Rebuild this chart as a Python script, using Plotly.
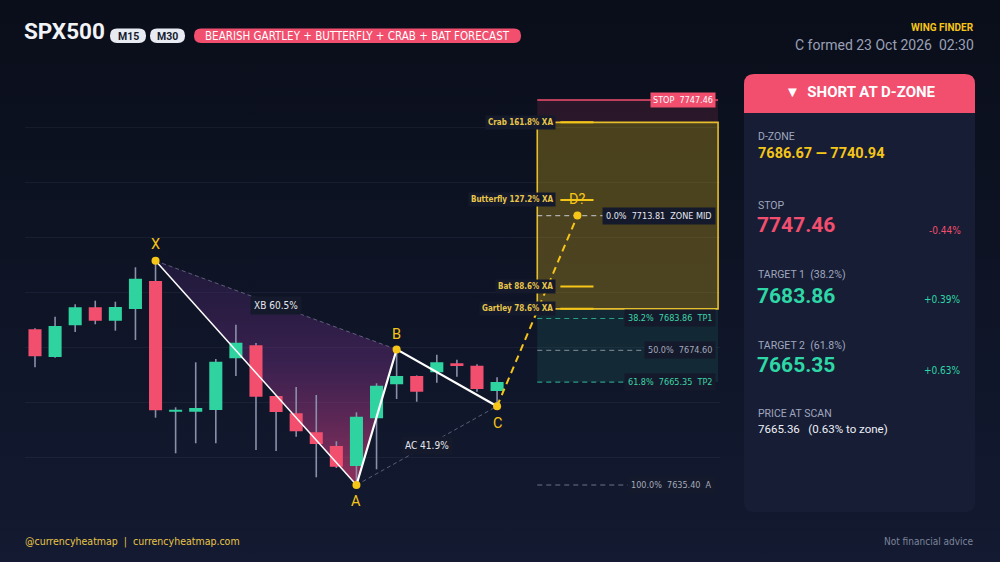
import base64
import plotly.graph_objects as go

# ---------------- data ----------------
candle_idx = list(range(24))
opens  = [7680.71, 7672.65, 7681.88, 7687.12, 7683.22, 7686.62, 7694.77, 7656.73, 7656.73, 7657.23, 7672.27, 7676.06,
          7661.30, 7656.27, 7650.74, 7646.75, 7640.93, 7654.81, 7664.71, 7667.12, 7668.20, 7670.82, 7670.12, 7662.76]
highs  = [7681.00, 7684.38, 7687.99, 7689.04, 7688.75, 7698.76, 7700.63, 7658.01, 7671.11, 7672.07, 7682.05, 7676.70,
          7661.50, 7663.92, 7661.59, 7648.12, 7656.56, 7665.00, 7674.86, 7667.30, 7673.32, 7671.87, 7670.53, 7666.75]
lows   = [7669.66, 7672.45, 7679.93, 7682.17, 7680.31, 7677.60, 7654.99, 7644.63, 7647.54, 7647.54, 7667.12, 7645.59,
          7645.30, 7649.46, 7637.64, 7640.35, 7635.40, 7639.97, 7660.43, 7659.64, 7665.17, 7666.92, 7662.55, 7658.33]
closes = [7672.86, 7681.68, 7687.12, 7683.22, 7687.20, 7695.44, 7657.14, 7657.23, 7657.81, 7671.29, 7676.82, 7661.10,
          7656.65, 7651.03, 7647.33, 7640.73, 7655.28, 7664.30, 7667.12, 7662.55, 7671.11, 7670.03, 7663.34, 7665.36]

pattern_labels = ["X", "A", "B", "C", "D?"]
pattern_idx = [6, 16, 18, 23, 27]
pattern_price = [7700.63, 7635.40, 7674.86, 7658.33, 7713.81]

level_names = ["Crab 161.8% XA", "Butterfly 127.2% XA", "Bat 88.6% XA", "Gartley 78.6% XA"]
level_prices = [7740.94, 7718.37, 7693.19, 7686.67]

fib_pcts = ["0.0%", "38.2%", "50.0%", "61.8%", "100.0%"]
fib_prices = [7713.81, 7683.86, 7674.60, 7665.35, 7635.40]
fib_tags = ["ZONE MID", "TP1", "", "TP2", "A"]

stop_price = 7747.46
price_at_scan = 7665.36
ratio_labels = ["XB 60.5%", "AC 41.9%"]
grid_prices = [7643.46, 7659.45, 7675.44, 7691.43, 7707.42, 7723.41, 7739.40]

symbol = "SPX500"
timeframes = ["M15", "M30"]
pattern_title = "BEARISH GARTLEY + BUTTERFLY + CRAB + BAT FORECAST"
formed_text = "C formed 23 Oct 2026\u00a0\u00a002:30"

# ---------------- style ----------------
W, H = 1000, 562
COND = "DejaVu Sans Condensed, Roboto, sans-serif"
ROB = "Roboto, sans-serif"
GREEN = "#2ed3a0"
RED = "#f24e6e"
YELLOW = "#f5c518"
LBLBG = "#141a2b"
ZONE_X0, ZONE_X1 = 25, 34
BODY_HALF = 0.325
NB = "\u00a0"


def P(px, py):
    return px / W, 1 - py / H


def rrect(x0, y0, x1, y1, r, top_only=False):
    def pt(a, b):
        xa, yb = P(a, b)
        return f"{xa:.5f},{yb:.5f}"
    if top_only:
        return (f"M{pt(x0, y1)} L{pt(x0, y0 + r)} Q{pt(x0, y0)} {pt(x0 + r, y0)} "
                f"L{pt(x1 - r, y0)} Q{pt(x1, y0)} {pt(x1, y0 + r)} L{pt(x1, y1)} Z")
    return (f"M{pt(x0 + r, y0)} L{pt(x1 - r, y0)} Q{pt(x1, y0)} {pt(x1, y0 + r)} "
            f"L{pt(x1, y1 - r)} Q{pt(x1, y1)} {pt(x1 - r, y1)} L{pt(x0 + r, y1)} "
            f"Q{pt(x0, y1)} {pt(x0, y1 - r)} L{pt(x0, y0 + r)} Q{pt(x0, y0)} {pt(x0 + r, y0)} Z")


fig = go.Figure()

# XAB triangle with gradient
X, A, B, C, D = list(zip(pattern_idx, pattern_price))
fig.add_trace(go.Scatter(
    x=[X[0], A[0], B[0], X[0]], y=[X[1], A[1], B[1], X[1]],
    mode="lines", line=dict(width=0), fill="toself",
    fillgradient=dict(type="vertical", start=A[1], stop=X[1],
                      colorscale=[[0, "rgba(230,65,120,0.6)"], [0.55, "rgba(125,50,140,0.38)"],
                                  [1, "rgba(75,40,115,0.28)"]]),
    hoverinfo="skip", showlegend=False))

# dashed XB / AC
for p0, p1 in [(X, B), (A, C)]:
    fig.add_trace(go.Scatter(x=[p0[0], p1[0]], y=[p0[1], p1[1]], mode="lines",
                             line=dict(color="rgba(150,150,180,0.55)", width=1, dash="4px,3px"),
                             hoverinfo="skip", showlegend=False))

# wicks
wx, wy = [], []
for i, hi, lo in zip(candle_idx, highs, lows):
    wx += [i, i, None]
    wy += [lo, hi, None]
fig.add_trace(go.Scatter(x=wx, y=wy, mode="lines", line=dict(color="#8a90aa", width=1.6),
                         hoverinfo="skip", showlegend=False))

# bodies (filled polygons so they sit above the gradient fill)
for up, col in [(True, GREEN), (False, RED)]:
    bx, by = [], []
    for i, o, c in zip(candle_idx, opens, closes):
        if (c >= o) != up:
            continue
        lo, hi = min(o, c), max(o, c)
        if hi - lo < 0.6:
            hi = lo + 0.6
        bx += [i - BODY_HALF, i + BODY_HALF, i + BODY_HALF, i - BODY_HALF, i - BODY_HALF, None]
        by += [lo, lo, hi, hi, lo, None]
    fig.add_trace(go.Scatter(x=bx, y=by, mode="lines", line=dict(width=0, color=col), fill="toself",
                             fillcolor=col, hoverinfo="skip", showlegend=False))

# pattern legs
fig.add_trace(go.Scatter(x=[X[0], A[0]], y=[X[1], A[1]], mode="lines", line=dict(color="white", width=1.5),
                         hoverinfo="skip", showlegend=False))
fig.add_trace(go.Scatter(x=[A[0], B[0], C[0]], y=[A[1], B[1], C[1]], mode="lines",
                         line=dict(color="white", width=2.2), hoverinfo="skip", showlegend=False))
fig.add_trace(go.Scatter(x=[C[0], D[0]], y=[C[1], D[1]], mode="lines",
                         line=dict(color=YELLOW, width=2, dash="7px,5px"), hoverinfo="skip", showlegend=False))

# level short lines
for lp in level_prices:
    fig.add_trace(go.Scatter(x=[D[0] - 0.85, D[0] + 0.8], y=[lp, lp], mode="lines",
                             line=dict(color=YELLOW, width=2), hoverinfo="skip", showlegend=False))

# pattern points
fig.add_trace(go.Scatter(x=pattern_idx, y=pattern_price, mode="markers",
                         marker=dict(color=YELLOW, size=8), cliponaxis=False,
                         hoverinfo="skip", showlegend=False))

shapes = []
shapes.append(dict(type="rect", xref="x", yref="y", x0=ZONE_X0, x1=ZONE_X1, y0=level_prices[0], y1=stop_price,
                   fillcolor="rgba(242,78,110,0.13)", line=dict(width=0), layer="between"))
shapes.append(dict(type="rect", xref="x", yref="y", x0=ZONE_X0, x1=ZONE_X1, y0=fib_prices[3], y1=level_prices[3],
                   fillcolor="rgba(47,214,166,0.10)", line=dict(width=0), layer="between"))
shapes.append(dict(type="rect", xref="x", yref="y", x0=ZONE_X0, x1=ZONE_X1, y0=level_prices[3], y1=level_prices[0],
                   fillcolor="rgba(245,197,24,0.27)", line=dict(color="#e6bd2c", width=1.6), layer="between"))
shapes.append(dict(type="line", xref="x", yref="y", x0=ZONE_X0, x1=ZONE_X1, y0=stop_price, y1=stop_price,
                   line=dict(color=RED, width=1.6), layer="between"))
fib_line_cols = ["rgba(210,212,222,0.75)", "rgba(47,200,160,0.75)", "rgba(150,155,175,0.7)",
                 "rgba(47,200,160,0.75)", "rgba(150,155,175,0.7)"]
fib_txt_cols = ["#e6e8f0", "#3dd6a8", "#a4a9bb", "#3dd6a8", "#a4a9bb"]
for fp, lc in zip(fib_prices, fib_line_cols):
    shapes.append(dict(type="line", xref="x", yref="y", x0=ZONE_X0, x1=33.5, y0=fp, y1=fp,
                       line=dict(color=lc, width=1.2, dash="5px,4px"), layer="between"))

# panel card
shapes.append(dict(type="path", xref="paper", yref="paper", path=rrect(744, 74, 975, 512, 10),
                   fillcolor="#161d35", line=dict(width=0)))
shapes.append(dict(type="path", xref="paper", yref="paper", path=rrect(744, 74, 975, 113, 10, top_only=True),
                   fillcolor="#f24e6e", line=dict(width=0)))
pill_boxes = [(110, 146), (150, 185)]
for (a, b) in pill_boxes:
    shapes.append(dict(type="path", xref="paper", yref="paper", path=rrect(a, 28.5, b, 43, 7),
                       fillcolor="#e9ebf3", line=dict(width=0)))
shapes.append(dict(type="path", xref="paper", yref="paper", path=rrect(194, 28.5, 521, 43, 7),
                   fillcolor="#f24e6e", line=dict(width=0)))

ann = []


def A_(x, y, text, size, color, family=COND, xanchor="left", yanchor="middle", xref="paper", yref="paper",
       bg=None, pad=0, yshift=0, bold=False):
    d = dict(x=x, y=y, xref=xref, yref=yref, text=(f"<b>{text}</b>" if bold else text), showarrow=False,
             xanchor=xanchor, yanchor=yanchor, font=dict(family=family, size=size, color=color),
             borderpad=pad, yshift=yshift)
    if bg:
        d["bgcolor"] = bg
    ann.append(d)


def PA(px, py, text, size, color, **kw):
    xp, yp = P(px, py)
    A_(xp, yp, text, size, color, **kw)


# header
PA(23, 31, symbol, 22.5, "#f2f3f7", family=ROB, bold=True)
for (a, b), tf in zip(pill_boxes, timeframes):
    PA((a + b) / 2, 36, tf, 10.5, "#161b2e", family=ROB, xanchor="center", bold=True)
PA((194 + 521) / 2, 36, pattern_title, 11.5, "#ffffff", xanchor="center")
PA(975, 28, "WING FINDER", 10, YELLOW, family=ROB, xanchor="right", bold=True)
PA(975, 45, formed_text, 14, "#9aa0b5", family=ROB, xanchor="right")

# footer
PA(24, 541, f"@currencyheatmap{NB}{NB}|{NB}{NB}currencyheatmap.com", 10.5, "#e8c547")
PA(975, 541, "Not financial advice", 10, "#7d8499", xanchor="right")

# panel
mid = fib_prices[0]
GREY = "#a0a7bd"
TEAL = "#2fd6a6"
PA(860, 92, f"▼{NB}{NB}SHORT AT D-ZONE", 15, "#ffffff", family=ROB, xanchor="center", bold=True)
PA(757, 137, "D-ZONE", 10.5, GREY, family=ROB)
PA(757, 153, f"{level_prices[3]:.2f} — {level_prices[0]:.2f}", 14.5, YELLOW, family=ROB, bold=True)
PA(757, 205, "STOP", 10.5, GREY, family=ROB)
PA(756, 225, f"{stop_price:.2f}", 21, RED, family=ROB, bold=True)
PA(962, 230, f"{(mid - stop_price) / mid * 100:+.2f}%", 10, RED, xanchor="right")
PA(757, 275, f"TARGET 1{NB}{NB}(38.2%)", 10.5, GREY, family=ROB)
PA(756, 296, f"{fib_prices[1]:.2f}", 21, TEAL, family=ROB, bold=True)
PA(962, 300, f"{(mid - fib_prices[1]) / mid * 100:+.2f}%", 10, TEAL, xanchor="right")
PA(757, 345, f"TARGET 2{NB}{NB}(61.8%)", 10.5, GREY, family=ROB)
PA(756, 365, f"{fib_prices[3]:.2f}", 21, TEAL, family=ROB, bold=True)
PA(962, 370, f"{(mid - fib_prices[3]) / mid * 100:+.2f}%", 10, TEAL, xanchor="right")
PA(757, 413, "PRICE AT SCAN", 10.5, GREY, family=ROB)
PA(757, 429, f"{price_at_scan:.2f}{NB}{NB}{NB}({(mid - price_at_scan) / price_at_scan * 100:.2f}% to zone)",
   11.5, "#eef0f6", family=ROB, bold=False)

# chart labels
for name, lp in zip(level_names, level_prices):
    A_(25.93, lp, name, 8, "#e9c64a", xanchor="right", xref="x", yref="y", bg=LBLBG, pad=2, bold=True)
A_(33.9, stop_price, f"STOP{NB}{NB}{stop_price:.2f}", 9, "#ffffff", xanchor="right", xref="x", yref="y",
   bg=RED, pad=2)
for pct, fp, tag, tc in zip(fib_pcts, fib_prices, fib_tags, fib_txt_cols):
    txt = f"{pct}{NB}{NB}{fp:.2f}" + (f"{NB}{NB}{tag}" if tag else "")
    A_(33.9, fp, txt, 9, tc, xanchor="right", xref="x", yref="y", bg=LBLBG, pad=3)
A_((X[0] + B[0]) / 2, (X[1] + B[1]) / 2, ratio_labels[0], 10, "#e4e6ee", xanchor="center", xref="x", yref="y",
   bg=LBLBG, pad=3)
A_((A[0] + C[0]) / 2, (A[1] + C[1]) / 2, ratio_labels[1], 10, "#e4e6ee", xanchor="center", xref="x", yref="y",
   bg=LBLBG, pad=3)
shifts = [16, -16, 15, -17, 16]
for lab, xi, yp, s in zip(pattern_labels, pattern_idx, pattern_price, shifts):
    A_(xi, yp, lab, 14.5, YELLOW, family=ROB, xanchor="center", xref="x", yref="y", yshift=s)

# background gradient
svg = ('<svg xmlns="http://www.w3.org/2000/svg" width="1000" height="562">'
       '<defs><linearGradient id="g" x1="0" y1="0" x2="0" y2="1">'
       '<stop offset="0" stop-color="#0a0e1a"/><stop offset="1" stop-color="#131a31"/>'
       '</linearGradient></defs><rect width="1000" height="562" fill="url(#g)"/></svg>')
src = "data:image/svg+xml;base64," + base64.b64encode(svg.encode()).decode()

fig.update_layout(
    width=W, height=H, margin=dict(l=0, r=0, t=0, b=0),
    paper_bgcolor="#0e1324", plot_bgcolor="rgba(0,0,0,0)",
    images=[dict(source=src, xref="paper", yref="paper", x=0, y=1, sizex=1, sizey=1,
                 xanchor="left", yanchor="top", sizing="stretch", layer="below")],
    shapes=shapes, annotations=ann, showlegend=False,
    xaxis=dict(domain=[0.025, 0.72], range=[-0.4978, 34.096], showgrid=False, zeroline=False,
               showticklabels=False, ticks="", fixedrange=True),
    yaxis=dict(domain=[0, 1], range=[7612.99, 7776.55], tickmode="array", tickvals=grid_prices,
               showgrid=True, gridcolor="rgba(120,130,170,0.10)", gridwidth=1, zeroline=False,
               showticklabels=False, ticks="", fixedrange=True),
)

fig.write_html("out.html")
